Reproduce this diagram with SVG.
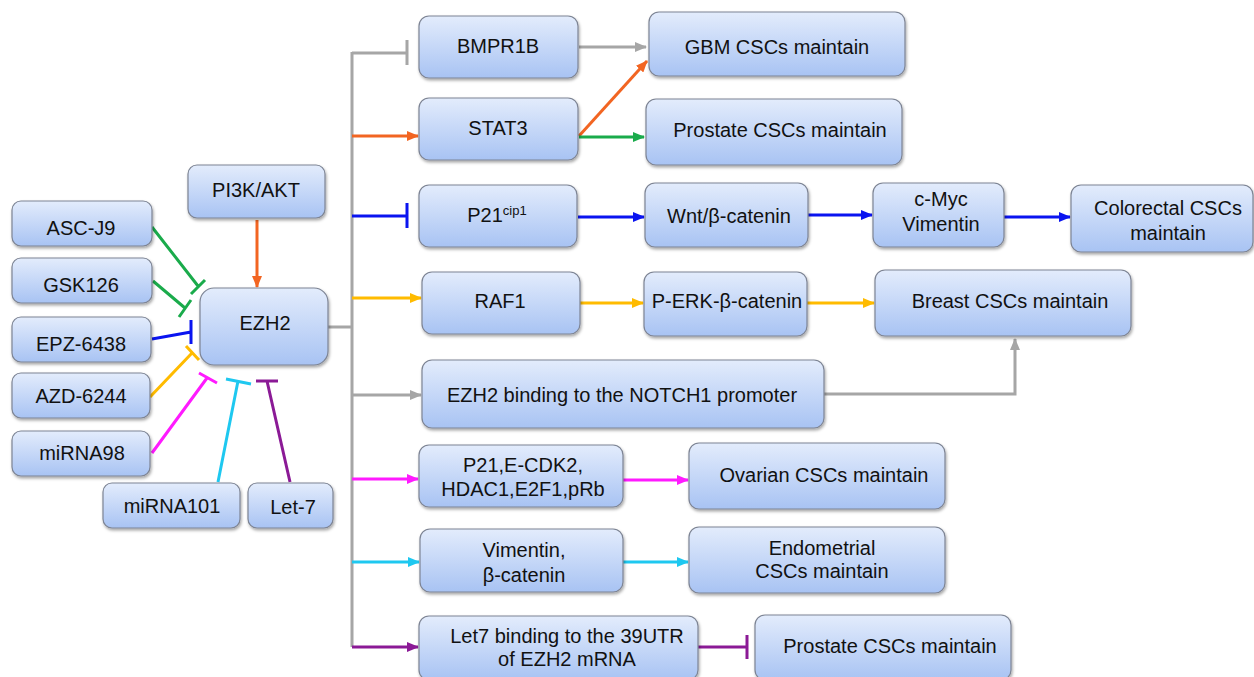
<svg xmlns="http://www.w3.org/2000/svg" width="1254" height="677" viewBox="0 0 1254 677">
<defs>
<linearGradient id="g" x1="0" y1="0" x2="0" y2="1">
<stop offset="0" stop-color="#e3ecfc"/>
<stop offset="1" stop-color="#a8c3f3"/>
</linearGradient>
<filter id="sh" x="-10%" y="-10%" width="130%" height="140%">
<feDropShadow dx="1" dy="2" stdDeviation="1.5" flood-color="#000" flood-opacity="0.35"/>
</filter>
<marker id="aGray" viewBox="0 0 12 10" refX="11" refY="5" markerWidth="4" markerHeight="3.33" orient="auto" markerUnits="strokeWidth"><path d="M0,0 L12,5 L0,10 z" fill="#a6a6a6"/></marker>
<marker id="aOr" viewBox="0 0 12 10" refX="11" refY="5" markerWidth="4" markerHeight="3.33" orient="auto" markerUnits="strokeWidth"><path d="M0,0 L12,5 L0,10 z" fill="#f26522"/></marker>
<marker id="aGr" viewBox="0 0 12 10" refX="11" refY="5" markerWidth="4" markerHeight="3.33" orient="auto" markerUnits="strokeWidth"><path d="M0,0 L12,5 L0,10 z" fill="#1aab4b"/></marker>
<marker id="aBl" viewBox="0 0 12 10" refX="11" refY="5" markerWidth="4" markerHeight="3.33" orient="auto" markerUnits="strokeWidth"><path d="M0,0 L12,5 L0,10 z" fill="#0a14f0"/></marker>
<marker id="aYe" viewBox="0 0 12 10" refX="11" refY="5" markerWidth="4" markerHeight="3.33" orient="auto" markerUnits="strokeWidth"><path d="M0,0 L12,5 L0,10 z" fill="#ffbb00"/></marker>
<marker id="aMa" viewBox="0 0 12 10" refX="11" refY="5" markerWidth="4" markerHeight="3.33" orient="auto" markerUnits="strokeWidth"><path d="M0,0 L12,5 L0,10 z" fill="#ff1aff"/></marker>
<marker id="aCy" viewBox="0 0 12 10" refX="11" refY="5" markerWidth="4" markerHeight="3.33" orient="auto" markerUnits="strokeWidth"><path d="M0,0 L12,5 L0,10 z" fill="#1ec8f0"/></marker>
<marker id="aPu" viewBox="0 0 12 10" refX="11" refY="5" markerWidth="4" markerHeight="3.33" orient="auto" markerUnits="strokeWidth"><path d="M0,0 L12,5 L0,10 z" fill="#8b1a96"/></marker>
</defs>
<style>
.box{fill:url(#g);stroke:#7d8494;stroke-width:1.2;filter:url(#sh)}
text{font-family:"Liberation Sans",Arial,sans-serif;font-size:20px;fill:#111;text-anchor:middle}
.c{fill:none;stroke-width:3}
.gray{stroke:#a6a6a6}.or{stroke:#f26522}.gr{stroke:#1aab4b}.bl{stroke:#0a14f0}.ye{stroke:#ffbb00}.ma{stroke:#ff1aff}.cy{stroke:#1ec8f0}.pu{stroke:#8b1a96}
</style>
<rect width="1254" height="677" fill="#fff"/>

<g id="connectors">
<line class="c or" x1="257" y1="220" x2="257" y2="287" marker-end="url(#aOr)"/>
<path class="c gr" d="M152,227 L198,286 M191,294 L205,280"/>
<path class="c gr" d="M153,281 L185,308 M179,317 L191,300"/>
<path class="c bl" d="M152,339 L191,332 M191,320 L191,344"/>
<path class="c ye" d="M150,397 L192,353 M186,346 L199,360"/>
<path class="c ma" d="M152,453 L207,378 M199,373 L217,383"/>
<path class="c cy" d="M218,482 L238,381 M226,379 L251,384"/>
<path class="c pu" d="M290,482 L267,381 M256,381 L278,381"/>
<path class="c gray" d="M328,327 L352,327 M352,52 L352,647"/>
<path class="c gray" d="M352,53 L407,53 M407,40 L407,65"/>
<line class="c or" x1="352" y1="136" x2="418" y2="136" marker-end="url(#aOr)"/>
<path class="c bl" d="M352,216 L407,216 M407,203 L407,228"/>
<line class="c ye" x1="352" y1="298" x2="421" y2="298" marker-end="url(#aYe)"/>
<line class="c gray" x1="352" y1="395" x2="421" y2="395" marker-end="url(#aGray)"/>
<line class="c ma" x1="352" y1="479" x2="418" y2="479" marker-end="url(#aMa)"/>
<line class="c cy" x1="352" y1="562" x2="419" y2="562" marker-end="url(#aCy)"/>
<line class="c pu" x1="352" y1="647" x2="418" y2="647" marker-end="url(#aPu)"/>
<line class="c gray" x1="579" y1="47" x2="646" y2="47" marker-end="url(#aGray)"/>
<line class="c or" x1="579" y1="136" x2="647" y2="61" marker-end="url(#aOr)"/>
<line class="c gr" x1="579" y1="137" x2="644" y2="137" marker-end="url(#aGr)"/>
<line class="c bl" x1="578" y1="217" x2="644" y2="217" marker-end="url(#aBl)"/>
<line class="c bl" x1="808" y1="215" x2="872" y2="215" marker-end="url(#aBl)"/>
<line class="c bl" x1="1004" y1="217" x2="1070" y2="217" marker-end="url(#aBl)"/>
<line class="c ye" x1="580" y1="303" x2="643" y2="303" marker-end="url(#aYe)"/>
<line class="c ye" x1="807" y1="303" x2="874" y2="303" marker-end="url(#aYe)"/>
<path class="c gray" d="M824,394 L1015,394 L1015,339" marker-end="url(#aGray)"/>
<line class="c ma" x1="623" y1="480" x2="688" y2="480" marker-end="url(#aMa)"/>
<line class="c cy" x1="623" y1="562" x2="688" y2="562" marker-end="url(#aCy)"/>
<path class="c pu" d="M698,647 L747,647 M747,635 L747,659"/>
</g>

<g id="n-ascj9"><rect class="box" x="12" y="201" width="140" height="45" rx="9"/><text x="81" y="235">ASC-J9</text></g>
<g id="n-gsk126"><rect class="box" x="12" y="258" width="140" height="45" rx="9"/><text x="81" y="292">GSK126</text></g>
<g id="n-epz6438"><rect class="box" x="12" y="317" width="139" height="45" rx="9"/><text x="81" y="351">EPZ-6438</text></g>
<g id="n-azd6244"><rect class="box" x="12" y="373" width="138" height="45" rx="9"/><text x="81" y="403">AZD-6244</text></g>
<g id="n-mirna98"><rect class="box" x="12" y="431" width="138" height="45" rx="9"/><text x="82" y="460">miRNA98</text></g>
<g id="n-mirna101"><rect class="box" x="103" y="483" width="137" height="45" rx="9"/><text x="172" y="513">miRNA101</text></g>
<g id="n-let7"><rect class="box" x="248" y="483" width="85" height="45" rx="9"/><text x="293" y="514">Let-7</text></g>
<g id="n-pi3k"><rect class="box" x="188" y="165" width="137" height="53" rx="9"/><text x="256" y="197">PI3K/AKT</text></g>
<g id="n-ezh2"><rect class="box" x="200" y="288" width="128" height="77" rx="14"/><text x="265" y="330">EZH2</text></g>

<g id="n-bmpr1b"><rect class="box" x="419" y="16" width="159" height="62" rx="10"/><text x="498" y="53">BMPR1B</text></g>
<g id="n-gbm"><rect class="box" x="649" y="12" width="256" height="64" rx="10"/><text x="777" y="54">GBM CSCs maintain</text></g>
<g id="n-stat3"><rect class="box" x="419" y="98" width="159" height="62" rx="10"/><text x="498" y="135">STAT3</text></g>
<g id="n-prostate1"><rect class="box" x="646" y="99" width="256" height="66" rx="10"/><text x="780" y="137">Prostate CSCs maintain</text></g>
<g id="n-p21"><rect class="box" x="419" y="185" width="158" height="62" rx="10"/><text x="497" y="222">P21<tspan font-size="13" dy="-7">cip1</tspan></text></g>
<g id="n-wnt"><rect class="box" x="645" y="183" width="163" height="64" rx="10"/><text x="729" y="223">Wnt/β-catenin</text></g>
<g id="n-cmyc"><rect class="box" x="873" y="183" width="131" height="64" rx="10"/><text x="941" y="206">c-Myc</text><text x="941" y="231">Vimentin</text></g>
<g id="n-colorectal"><rect class="box" x="1071" y="185" width="182" height="67" rx="10"/><text x="1168" y="215">Colorectal CSCs</text><text x="1168" y="240">maintain</text></g>
<g id="n-raf1"><rect class="box" x="422" y="272" width="158" height="62" rx="10"/><text x="500" y="308">RAF1</text></g>
<g id="n-perk"><rect class="box" x="644" y="272" width="163" height="64" rx="10"/><text x="727" y="308">P-ERK-β-catenin</text></g>
<g id="n-breast"><rect class="box" x="875" y="270" width="256" height="66" rx="10"/><text x="1010" y="308">Breast CSCs maintain</text></g>
<g id="n-notch"><rect class="box" x="422" y="360" width="402" height="68" rx="10"/><text x="622" y="402">EZH2 binding to the NOTCH1 promoter</text></g>
<g id="n-p21multi"><rect class="box" x="419" y="445" width="204" height="62" rx="10"/><text x="523" y="472">P21,E-CDK2,</text><text x="523" y="496">HDAC1,E2F1,pRb</text></g>
<g id="n-ovarian"><rect class="box" x="689" y="443" width="256" height="66" rx="10"/><text x="824" y="482">Ovarian CSCs maintain</text></g>
<g id="n-vimentin"><rect class="box" x="420" y="529" width="203" height="63" rx="10"/><text x="524" y="557">Vimentin,</text><text x="524" y="582">β-catenin</text></g>
<g id="n-endometrial"><rect class="box" x="689" y="527" width="256" height="66" rx="10"/><text x="822" y="555">Endometrial</text><text x="822" y="578">CSCs maintain</text></g>
<g id="n-let7binding"><rect class="box" x="419" y="616" width="279" height="64" rx="10"/><text x="567" y="643">Let7 binding to the 39UTR</text><text x="567" y="666">of EZH2 mRNA</text></g>
<g id="n-prostate2"><rect class="box" x="755" y="615" width="256" height="65" rx="10"/><text x="890" y="653">Prostate CSCs maintain</text></g>
</svg>
